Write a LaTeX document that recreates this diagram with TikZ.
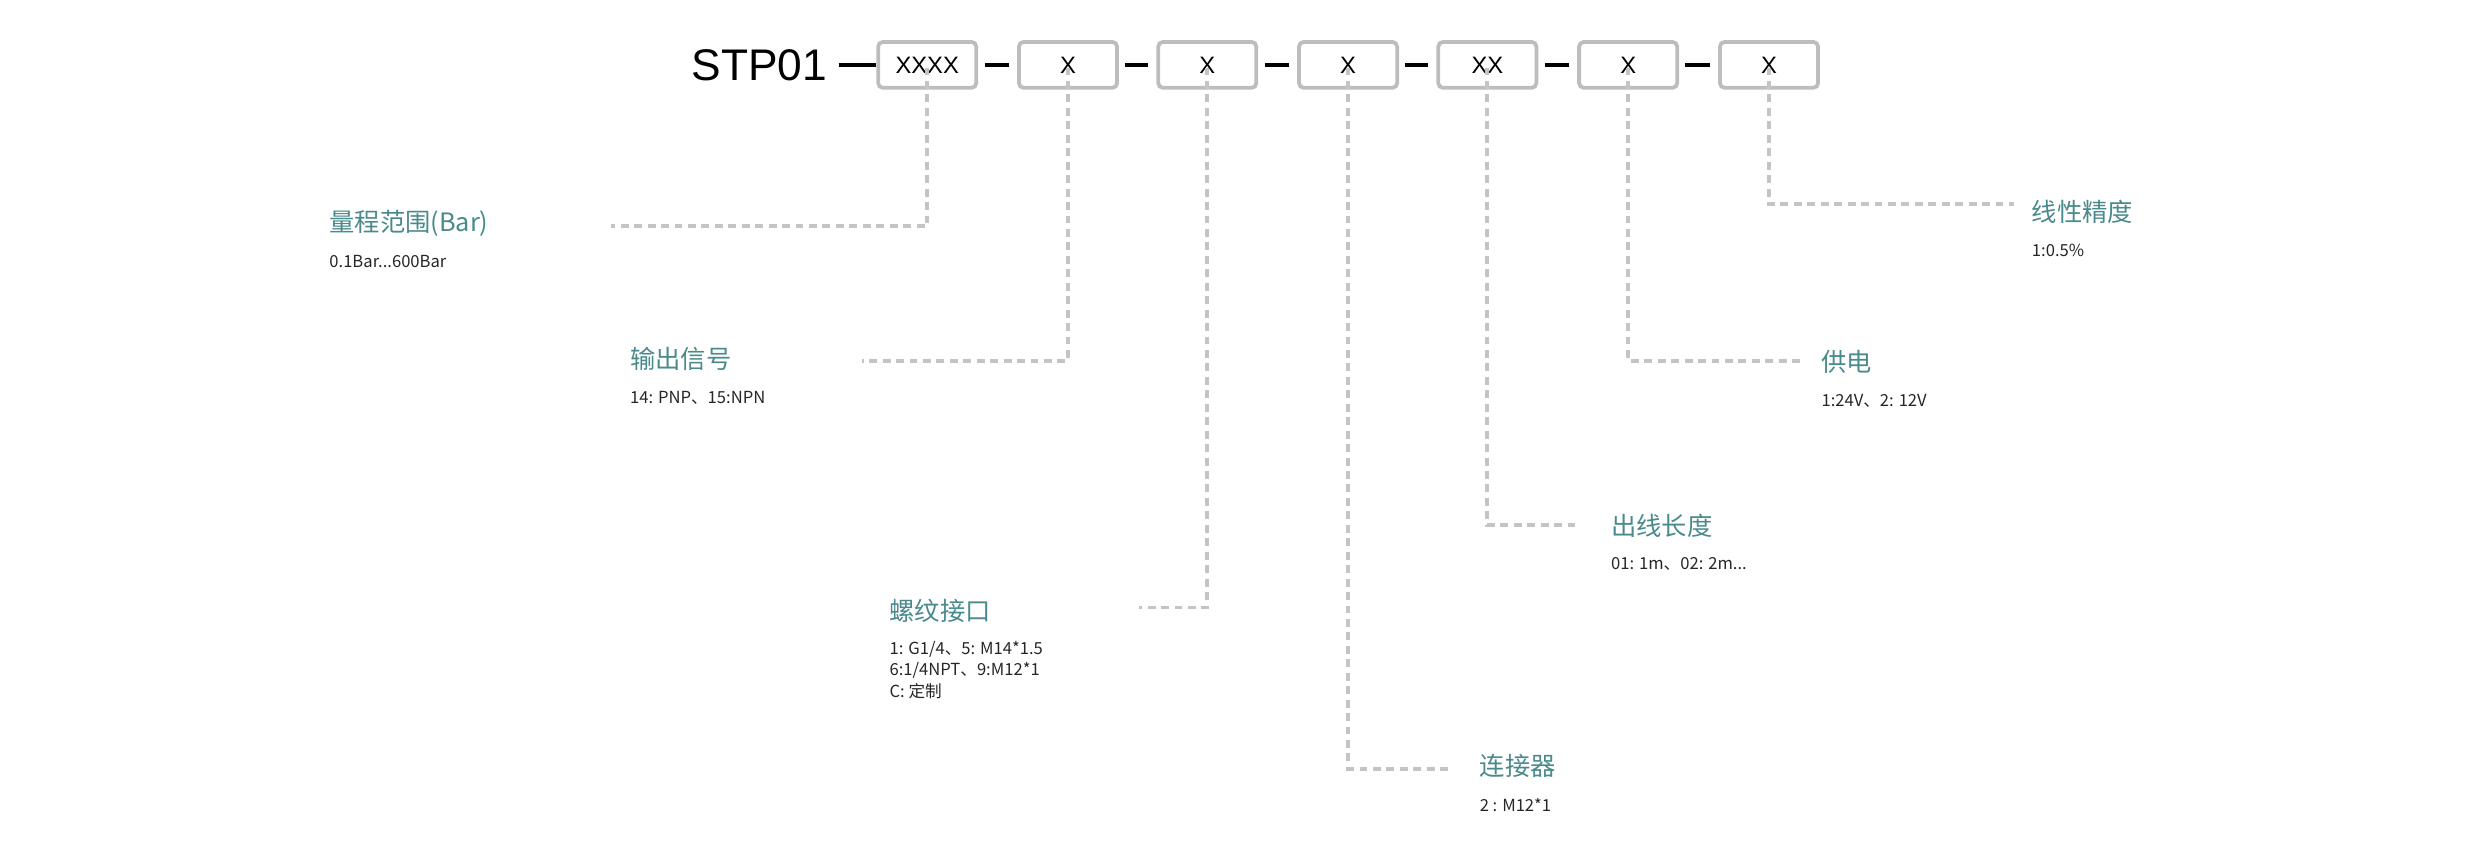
\documentclass[tikz,border=0pt]{standalone}
\usepackage{fontspec}
\setmainfont{Noto Sans CJK SC}
\newfontfamily\latinf{Liberation Sans}
\definecolor{teal1}{HTML}{4A8A8C}
\definecolor{dgray}{HTML}{C4C4C4}
\definecolor{bgray}{HTML}{BDBDBD}
\begin{document}
\begin{tikzpicture}[x=1pt,y=-1pt,
  codebox/.style={draw=bgray,line width=2.4pt,rounded corners=3pt,minimum width=62pt,minimum height=29pt,inner sep=0pt,font=\fontsize{15}{15}\selectfont\latinf},
  lead/.style={draw=dgray,line width=2.4pt,dash pattern=on 5pt off 3.5pt},
  ttl/.style={anchor=west,inner sep=0pt,text=teal1,font=\fontsize{16}{16}\selectfont},
  sub/.style={anchor=north west,inner sep=0pt,align=left,text=black!85,font=\fontsize{10.5}{13.5}\selectfont},
  dsh/.style={line width=2.6pt,black}]
\useasboundingbox (0,0) rectangle (1568,543);
\node[anchor=east,inner sep=0pt,font=\fontsize{28}{28}\selectfont\latinf] (stp) at (523,41) {STP01};
\foreach \n/\x/\t in {b1/586/XXXX,b2/675/X,b3/763/X,b4/852/X,b5/940/XX,b6/1029/X,b7/1118/X}
  \node[codebox] (\n) at (\x,41) {\t};
\draw[dsh] (stp.east)++(7,0) coordinate (s0) -- (b1.west) ++(-7,0);
\draw[dsh] (531,41) -- (548,41);
\foreach \a/\b in {b1/b2,b2/b3,b3/b4,b4/b5,b5/b6,b6/b7}
  \draw[dsh] ([xshift=4pt]\a.east) -- ([xshift=-5pt]\b.west);
% titles
\node[ttl] (t1) at (208,141) {量程范围(Bar)};
\node[sub] (s1) at (208,161) {0.1Bar...600Bar};
\node[ttl] (t2) at (398,227) {输出信号};
\node[sub] (s2) at (398,247) {14: PNP、15:NPN};
\node[ttl] (t3) at (562,386) {螺纹接口};
\node[sub] (s3) at (562,405) {1: G1/4、5: M14*1.5\\6:1/4NPT、9:M12*1\\C: 定制};
\node[ttl] (t4) at (935,484) {连接器};
\node[sub] (s4) at (935,504) {2 : M12*1};
\node[ttl] (t5) at (1018,332) {出线长度};
\node[sub] (s5) at (1018,352) {01: 1m、02: 2m...};
\node[ttl] (t6) at (1151,229) {供电};
\node[sub] (s6) at (1151,249) {1:24V、2: 12V};
\node[ttl] (t7) at (1284,134) {线性精度};
\node[sub] (s7) at (1284,154) {1:0.5\%};
% leaders
\coordinate (e1) at (386,143); \coordinate (e2) at (545,228); \coordinate (e3) at (720,384);
\coordinate (e4) at (918,486); \coordinate (e5) at (998,332); \coordinate (e6) at (1138,228);
\coordinate (e7) at (1273,129);
\draw[lead] ([yshift=14pt]b1.south) |- (e1);
\draw[lead] ([yshift=14pt]b2.south) |- (e2);
\draw[lead] ([yshift=14pt]b3.south) |- (e3);
\draw[lead] ([yshift=14pt]b4.south) |- (e4);
\draw[lead] ([yshift=14pt]b5.south) |- (e5);
\draw[lead] ([yshift=14pt]b6.south) |- (e6);
\draw[lead] ([yshift=14pt]b7.south) |- (e7);
\end{tikzpicture}
\end{document}
